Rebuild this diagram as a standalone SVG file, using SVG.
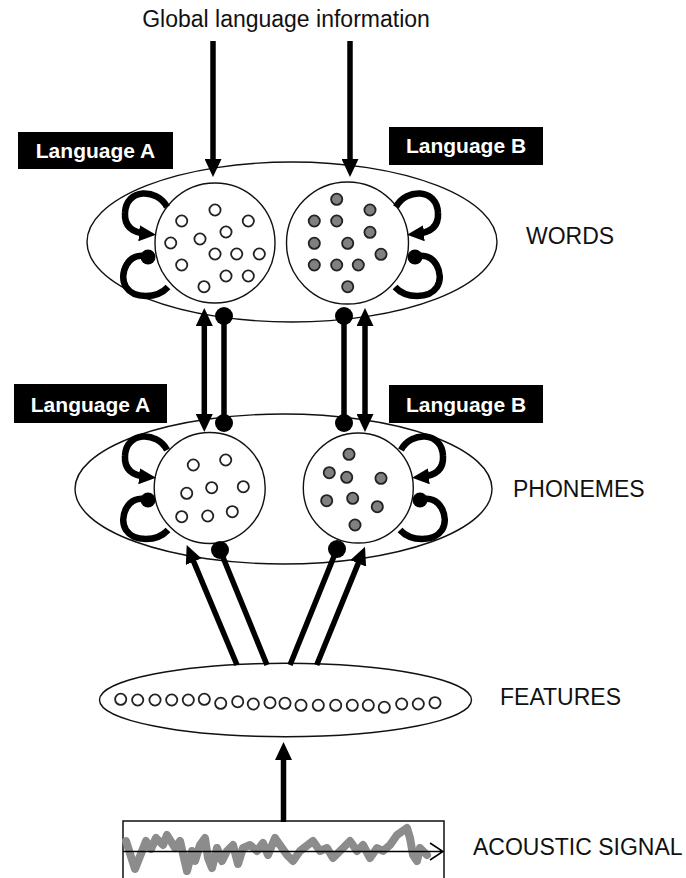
<svg xmlns="http://www.w3.org/2000/svg" width="686" height="878" viewBox="0 0 686 878">
<style>
.lbl{font-family:"Liberation Sans",Arial,sans-serif;font-size:23px;fill:#111}
.tag{fill:#000}
.tagt{font-family:"Liberation Sans",Arial,sans-serif;font-size:21px;font-weight:bold;fill:#fff;text-anchor:middle}
.thin{fill:#fff;stroke:#111;stroke-width:1.4}
.open{fill:#fff;stroke:#222;stroke-width:1.8}
.grey{fill:#808080;stroke:#222;stroke-width:1.8}
.thick{fill:none;stroke:#000;stroke-width:5.5}
.loop{fill:none;stroke:#000;stroke-width:6.5}
.arr{marker-end:url(#ah)}
.darr{marker-start:url(#ah);marker-end:url(#ah)}
.dline{marker-start:url(#dot);marker-end:url(#dot)}
.dend{marker-end:url(#dot)}
.lup{marker-end:url(#ahs)}
.llo{marker-start:url(#dots)}
</style>
<defs>
<marker id="ah" viewBox="0 0 18 17" refX="10" refY="8.5" markerWidth="18" markerHeight="17" markerUnits="userSpaceOnUse" orient="auto-start-reverse"><path d="M0,0 L18,8.5 L0,17 z" fill="#000"/></marker>
<marker id="ahs" viewBox="0 0 17 16" refX="8" refY="8" markerWidth="17" markerHeight="16" markerUnits="userSpaceOnUse" orient="auto"><path d="M0,0 L17,8 L0,16 z" fill="#000"/></marker>
<marker id="dot" viewBox="0 0 20 20" refX="10" refY="10" markerWidth="20" markerHeight="20" markerUnits="userSpaceOnUse"><circle cx="10" cy="10" r="9" fill="#000"/></marker>
<marker id="dots" viewBox="0 0 18 18" refX="9" refY="9" markerWidth="18" markerHeight="18" markerUnits="userSpaceOnUse"><circle cx="9" cy="9" r="7.5" fill="#000"/></marker>
<g id="loopsA">
<path class="loop lup" d="M167,207 C157,188 126,188 125,213 C124,229 136,233 147,234"/>
<path class="loop llo" d="M148,257 C128,250 118,275 126,287 C134,299 157,299 168,287"/>
</g>
</defs>

<text class="lbl" x="286" y="27" text-anchor="middle">Global language information</text>

<g id="words">
<ellipse class="thin" cx="292" cy="242" rx="205" ry="80"/>
<text class="lbl" x="526" y="244">WORDS</text>
</g>
<g id="words-A">
<circle class="thin" cx="215" cy="243" r="60"/>
<circle class="open" cx="215" cy="210" r="5.6"/>
<circle class="open" cx="181.7" cy="221" r="5.6"/>
<circle class="open" cx="248.3" cy="221" r="5.6"/>
<circle class="open" cx="226" cy="232" r="5.6"/>
<circle class="open" cx="170.7" cy="243" r="5.6"/>
<circle class="open" cx="200" cy="239" r="5.6"/>
<circle class="open" cx="215" cy="254" r="5.6"/>
<circle class="open" cx="236.7" cy="254" r="5.6"/>
<circle class="open" cx="259.3" cy="254" r="5.6"/>
<circle class="open" cx="181.7" cy="265" r="5.6"/>
<circle class="open" cx="226" cy="276" r="5.6"/>
<circle class="open" cx="248.3" cy="276" r="5.6"/>
<circle class="open" cx="204" cy="286.7" r="5.6"/>
<use href="#loopsA"/>
<rect class="tag" x="18" y="132" width="155" height="37"/>
<text class="tagt" x="95.5" y="158">Language A</text>
</g>
<g id="words-B">
<circle class="thin" cx="347.5" cy="243" r="61"/>
<circle class="grey" cx="336.7" cy="199.3" r="5.6"/>
<circle class="grey" cx="370" cy="210" r="5.6"/>
<circle class="grey" cx="314.3" cy="221" r="5.6"/>
<circle class="grey" cx="336.7" cy="221" r="5.6"/>
<circle class="grey" cx="370" cy="232.3" r="5.6"/>
<circle class="grey" cx="314.3" cy="243.3" r="5.6"/>
<circle class="grey" cx="347.7" cy="243.3" r="5.6"/>
<circle class="grey" cx="381" cy="254.3" r="5.6"/>
<circle class="grey" cx="314.3" cy="265" r="5.6"/>
<circle class="grey" cx="336.7" cy="265" r="5.6"/>
<circle class="grey" cx="358.3" cy="265" r="5.6"/>
<circle class="grey" cx="347.7" cy="286.7" r="5.6"/>
<use href="#loopsA" transform="translate(563,0) scale(-1,1)"/>
<rect class="tag" x="389" y="127" width="154" height="38"/>
<text class="tagt" x="466" y="153">Language B</text>
</g>

<g id="phonemes">
<ellipse class="thin" cx="283.5" cy="489" rx="208.5" ry="75"/>
<text class="lbl" x="513" y="497">PHONEMES</text>
</g>
<g id="phonemes-A">
<circle class="thin" cx="209.7" cy="488" r="55.5"/>
<circle class="open" cx="193.3" cy="465" r="5.6"/>
<circle class="open" cx="225.7" cy="460" r="5.6"/>
<circle class="open" cx="186.7" cy="493.3" r="5.6"/>
<circle class="open" cx="211.7" cy="487.7" r="5.6"/>
<circle class="open" cx="243.3" cy="486.7" r="5.6"/>
<circle class="open" cx="181.7" cy="516.7" r="5.6"/>
<circle class="open" cx="207.7" cy="516" r="5.6"/>
<circle class="open" cx="232.3" cy="511.7" r="5.6"/>
<use href="#loopsA" transform="translate(0,243)"/>
<rect class="tag" x="14" y="384" width="153" height="39"/>
<text class="tagt" x="90.5" y="411.5">Language A</text>
</g>
<g id="phonemes-B">
<circle class="thin" cx="358.3" cy="488" r="55"/>
<circle class="grey" cx="349" cy="454.3" r="5.6"/>
<circle class="grey" cx="329.3" cy="472.7" r="5.6"/>
<circle class="grey" cx="346.7" cy="477.3" r="5.6"/>
<circle class="grey" cx="381" cy="478.3" r="5.6"/>
<circle class="grey" cx="326.7" cy="500.7" r="5.6"/>
<circle class="grey" cx="352.7" cy="498.3" r="5.6"/>
<circle class="grey" cx="377.3" cy="506.7" r="5.6"/>
<circle class="grey" cx="355" cy="525" r="5.6"/>
<use href="#loopsA" transform="translate(568,243) scale(-1,1)"/>
<rect class="tag" x="389" y="385" width="154" height="38"/>
<text class="tagt" x="466" y="412">Language B</text>
</g>

<g id="features">
<ellipse class="thin" cx="285.5" cy="700" rx="186" ry="36.7"/>
<circle class="open" cx="120.7" cy="699.3" r="5.6"/>
<circle class="open" cx="137.7" cy="700" r="5.6"/>
<circle class="open" cx="155" cy="700" r="5.6"/>
<circle class="open" cx="171.7" cy="700" r="5.6"/>
<circle class="open" cx="188.3" cy="700" r="5.6"/>
<circle class="open" cx="204.3" cy="699.3" r="5.6"/>
<circle class="open" cx="220.7" cy="703.3" r="5.6"/>
<circle class="open" cx="237.7" cy="701.7" r="5.6"/>
<circle class="open" cx="253.3" cy="704" r="5.6"/>
<circle class="open" cx="270" cy="702.7" r="5.6"/>
<circle class="open" cx="285" cy="703.3" r="5.6"/>
<circle class="open" cx="301" cy="705.3" r="5.6"/>
<circle class="open" cx="318.3" cy="705.3" r="5.6"/>
<circle class="open" cx="335.7" cy="705.3" r="5.6"/>
<circle class="open" cx="352.3" cy="705.3" r="5.6"/>
<circle class="open" cx="368.3" cy="705.3" r="5.6"/>
<circle class="open" cx="384.3" cy="707.3" r="5.6"/>
<circle class="open" cx="401.7" cy="704" r="5.6"/>
<circle class="open" cx="418.3" cy="704" r="5.6"/>
<circle class="open" cx="435" cy="702.7" r="5.6"/>
<text class="lbl" x="500" y="705">FEATURES</text>
</g>

<g id="acoustic">
<rect x="123" y="821" width="321" height="70" fill="#fff" stroke="#111" stroke-width="1.5"/>
<polyline points="126,841 135,869 146,841 151,849 156,838 163,845 167,835 175,848 180,841 187,871 192,851 195,861 200,845 205,838 208,858 212,868 217,848 222,861 227,851 233,845 238,864 243,848 250,845 257,851 263,843 268,855 275,838 280,845 287,855 293,861 300,851 313,841 320,851 327,848 333,858 343,848 350,841 357,851 363,845 370,858 377,848 383,851 390,845 397,835 407,828 410,838 413,855 417,861 420,848 427,855" fill="none" stroke="#8c8c8c" stroke-width="8" stroke-linejoin="round" stroke-linecap="round"/>
<path d="M123,851.5 H443 M430,843 L443,851.5 L430,860" fill="none" stroke="#000" stroke-width="1.5"/>
<text class="lbl" x="473" y="855">ACOUSTIC SIGNAL</text>
</g>

<g id="connectors">
<path class="thick arr" d="M213,41 V169"/>
<path class="thick arr" d="M350,41 V169"/>
<path class="thick darr" d="M204.3,316 V424"/>
<path class="thick dline" d="M224,316 V423"/>
<path class="thick dline" d="M344,316 V423"/>
<path class="thick darr" d="M365,316 V424"/>
<path class="thick arr" d="M237,665 L189.8,552.4"/>
<path class="thick dend" d="M267,665 L220,550"/>
<path class="thick dend" d="M290,665 L337,549"/>
<path class="thick arr" d="M316.7,665 L362,554.1"/>
<path class="thick arr" d="M283.5,822 V750"/>
</g>
</svg>
